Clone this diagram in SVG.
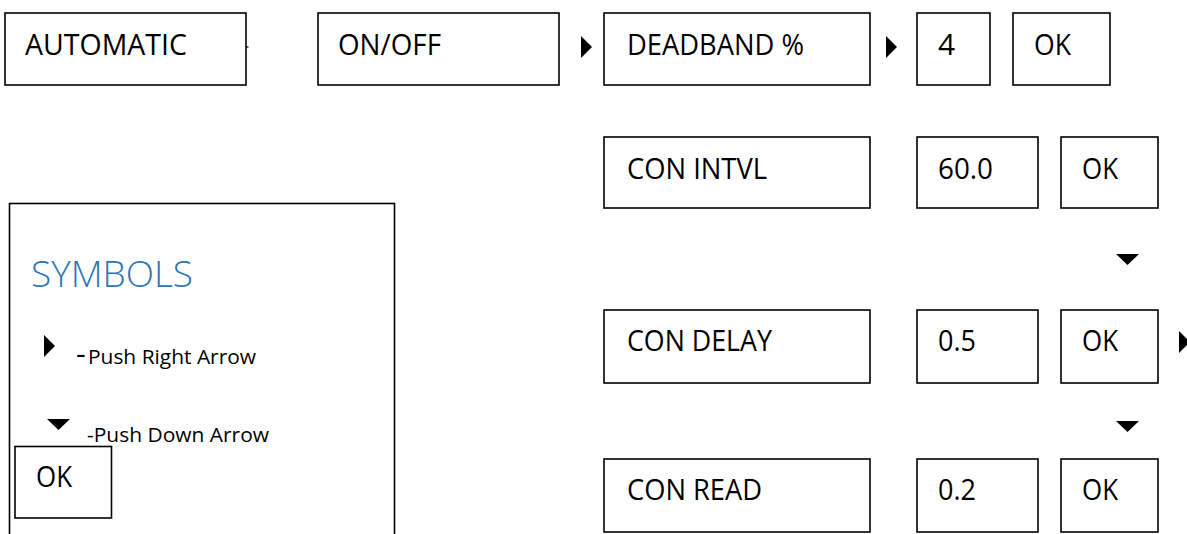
<svg xmlns="http://www.w3.org/2000/svg" width="1187" height="534" viewBox="0 0 1187 534">
<style>
.box{fill:#fff;stroke:#000;stroke-width:1.6}
.t{font-family:"Open Sans","Liberation Sans",sans-serif;font-size:30px;fill:#000}
.s{font-family:"Open Sans","Liberation Sans",sans-serif;font-size:20px;fill:#000}
.title{font-family:"Open Sans","Liberation Sans",sans-serif;font-size:36px;font-weight:300;fill:#2E75B6}
.arr{fill:#000}
</style>
<defs>
<path id="ra" d="M0,0 L11,11 L0,22 Z"/>
<path id="da" d="M0,0 L23,0 L11.5,11 Z"/>
</defs>
<rect width="1187" height="534" fill="#fff"/>

<g id="legend">
<rect class="box" x="9.5" y="203.5" width="385" height="340"/>
<text class="title" x="31" y="287" textLength="162" lengthAdjust="spacingAndGlyphs">SYMBOLS</text>
<use href="#ra" class="arr" x="44" y="335"/>
<text class="s" x="76" y="364"><tspan font-size="30">-</tspan><tspan x="88" textLength="168" lengthAdjust="spacingAndGlyphs">Push Right Arrow</tspan></text>
<use href="#da" class="arr" x="47" y="419"/>
<text class="s" x="87" y="442" textLength="182" lengthAdjust="spacingAndGlyphs">-Push Down Arrow</text>
<g id="legend-ok">
<rect class="box" x="15" y="446.5" width="96.5" height="71.5"/>
<text class="t" x="36" y="487" textLength="36" lengthAdjust="spacingAndGlyphs">OK</text>
</g>
</g>

<g id="automatic">
<rect class="box" x="5" y="13" width="241" height="72"/>
<text class="t" x="25" y="55" textLength="162" lengthAdjust="spacingAndGlyphs">AUTOMATIC</text>
</g>
<g id="onoff">
<rect class="box" x="318" y="13" width="241" height="72"/>
<text class="t" x="338" y="55" textLength="103" lengthAdjust="spacingAndGlyphs">ON/OFF</text>
</g>
<g id="deadband">
<rect class="box" x="604" y="13" width="266" height="72"/>
<text class="t" x="627" y="55" textLength="177" lengthAdjust="spacingAndGlyphs">DEADBAND %</text>
</g>
<g id="deadband-val">
<rect class="box" x="917" y="13" width="73" height="72"/>
<text class="t" x="938" y="55">4</text>
</g>
<g id="deadband-ok">
<rect class="box" x="1013" y="13" width="97" height="72"/>
<text class="t" x="1034" y="55" textLength="37" lengthAdjust="spacingAndGlyphs">OK</text>
</g>

<g id="con-intvl">
<rect class="box" x="604" y="137" width="266" height="71"/>
<text class="t" x="627" y="179" textLength="140" lengthAdjust="spacingAndGlyphs">CON INTVL</text>
</g>
<g id="con-intvl-val">
<rect class="box" x="917" y="137" width="121" height="71"/>
<text class="t" x="938" y="179" textLength="55" lengthAdjust="spacingAndGlyphs">60.0</text>
</g>
<g id="con-intvl-ok">
<rect class="box" x="1061" y="137" width="97" height="71"/>
<text class="t" x="1082" y="179" textLength="36" lengthAdjust="spacingAndGlyphs">OK</text>
</g>

<g id="con-delay">
<rect class="box" x="604" y="310" width="266" height="73"/>
<text class="t" x="627" y="351" textLength="145" lengthAdjust="spacingAndGlyphs">CON DELAY</text>
</g>
<g id="con-delay-val">
<rect class="box" x="917" y="310" width="121" height="73"/>
<text class="t" x="938" y="351" textLength="38" lengthAdjust="spacingAndGlyphs">0.5</text>
</g>
<g id="con-delay-ok">
<rect class="box" x="1061" y="310" width="97" height="73"/>
<text class="t" x="1082" y="351" textLength="36" lengthAdjust="spacingAndGlyphs">OK</text>
</g>

<g id="con-read">
<rect class="box" x="604" y="459" width="266" height="73"/>
<text class="t" x="627" y="500" textLength="135" lengthAdjust="spacingAndGlyphs">CON READ</text>
</g>
<g id="con-read-val">
<rect class="box" x="917" y="459" width="121" height="73"/>
<text class="t" x="938" y="500" textLength="38" lengthAdjust="spacingAndGlyphs">0.2</text>
</g>
<g id="con-read-ok">
<rect class="box" x="1061" y="459" width="97" height="73"/>
<text class="t" x="1082" y="500" textLength="36" lengthAdjust="spacingAndGlyphs">OK</text>
</g>

<g id="connectors">
<line x1="246" y1="47" x2="248.5" y2="47" stroke="#000" stroke-width="1.2"/>
<use href="#ra" class="arr" x="581" y="36"/>
<use href="#ra" class="arr" x="886" y="36"/>
<use href="#da" class="arr" x="1116" y="254"/>
<use href="#ra" class="arr" x="1179" y="331"/>
<use href="#da" class="arr" x="1116" y="421"/>
</g>
</svg>
